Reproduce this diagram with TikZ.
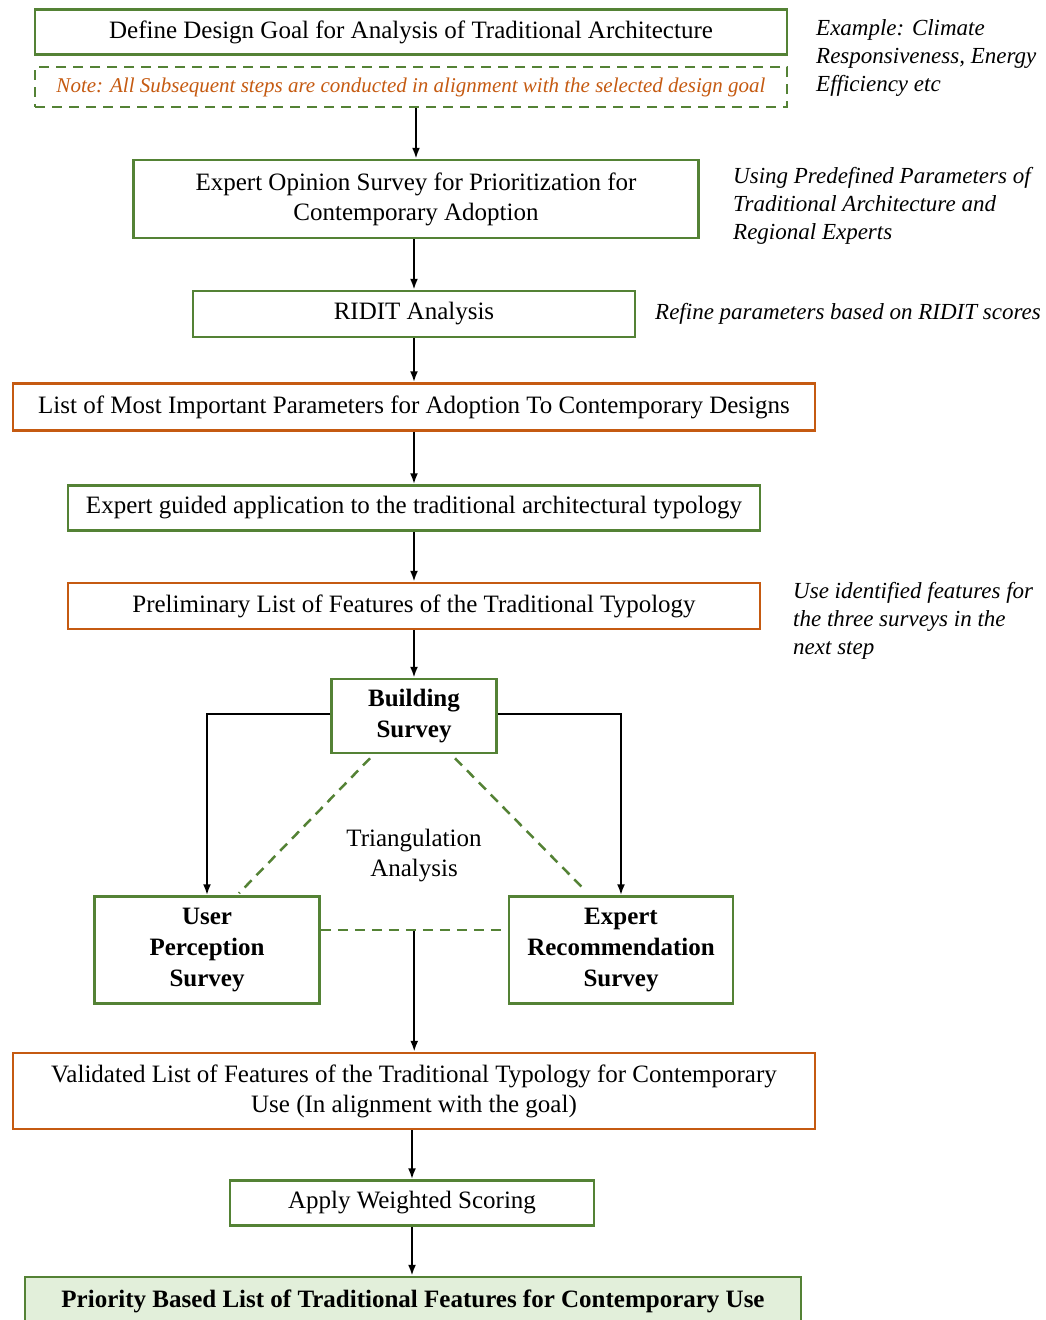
\documentclass[tikz,border=0pt]{standalone}
\usepackage{fontspec}
\setmainfont{Liberation Serif}
\usetikzlibrary{arrows.meta,calc}
\definecolor{boxgreen}{HTML}{548235}
\definecolor{boxorange}{HTML}{C55A11}
\definecolor{fillgreen}{HTML}{E2EFDA}
\begin{document}
\begin{tikzpicture}[x=1pt,y=-1pt,
    every node/.style={font=\fontsize{25}{30}\selectfont},
    gbox/.style={draw=boxgreen,line width=2.5pt,align=center,inner sep=0pt},
    obox/.style={draw=boxorange,line width=2.5pt,align=center,inner sep=0pt},
    survey/.style={gbox,font=\fontsize{25}{31}\selectfont\bfseries},
    notebox/.style={draw=boxgreen,line width=2.5pt,dash pattern=on 10pt off 7pt,inner sep=0pt,
      font=\fontsize{21}{24}\selectfont\itshape,text=boxorange},
    side/.style={align=left,anchor=north west,inner sep=0pt,font=\fontsize{23}{28}\selectfont\itshape},
    flow/.style={line width=2pt,-{Latex[length=11pt,width=8pt]}},
    tri/.style={draw=boxgreen,line width=2.5pt,dash pattern=on 10pt off 7pt}]
  \useasboundingbox (0,0) rectangle (1046,1320);
  \node[gbox,minimum width=752pt,minimum height=45pt] (goal) at (411,32) {Define Design Goal for Analysis of Traditional Architecture};
  \node[notebox,minimum width=752pt,minimum height=40pt] (note) at (411,87) {Note: All Subsequent steps are conducted in alignment with the selected design goal};
  \node[gbox,minimum width=565pt,minimum height=78pt] (opinion) at (416,199) {Expert Opinion Survey for Prioritization for\\Contemporary Adoption};
  \node[gbox,minimum width=442pt,minimum height=46pt] (ridit) at (414,314) {RIDIT Analysis};
  \node[obox,minimum width=802pt,minimum height=47pt] (params) at (414,407) {List of Most Important Parameters for Adoption To Contemporary Designs};
  \node[gbox,minimum width=692pt,minimum height=45pt] (guided) at (414,508) {Expert guided application to the traditional architectural typology};
  \node[obox,minimum width=692pt,minimum height=46pt] (prelim) at (414,606) {Preliminary List of Features of the Traditional Typology};
  \node[survey,minimum width=165pt,minimum height=74pt] (building) at (414,716) {Building\\Survey};
  \node[survey,minimum width=225pt,minimum height=107pt] (user) at (207,950) {User\\Perception\\Survey};
  \node[survey,minimum width=224pt,minimum height=107pt] (expert) at (621,950) {Expert\\Recommendation\\Survey};
  \node[align=center] (triang) at (414,856) {Triangulation\\Analysis};
  \node[obox,minimum width=802pt,minimum height=76pt] (valid) at (414,1091) {Validated List of Features of the Traditional Typology for Contemporary\\Use (In alignment with the goal)};
  \node[gbox,minimum width=364pt,minimum height=45pt] (weighted) at (412,1203) {Apply Weighted Scoring};
  \node[gbox,fill=fillgreen,minimum width=776pt,minimum height=48pt,font=\fontsize{25}{30}\selectfont\bfseries] (priority) at (413,1301) {Priority Based List of Traditional Features for Contemporary Use};
  \node[side] (ex1) at (816,19) {Example: Climate\\Responsiveness, Energy\\Efficiency etc};
  \node[side] (ex2) at (733,167) {Using Predefined Parameters of\\Traditional Architecture and\\Regional Experts};
  \node[side,anchor=west] (ex3) at (655,314) {Refine parameters based on RIDIT scores};
  \node[side] (ex4) at (793,582) {Use identified features for\\the three surveys in the\\next step};
  \coordinate (bl) at ($(building.south)+(-44,4)$);
  \coordinate (br) at ($(building.south)+(41,4)$);
  \coordinate (ul) at ($(user.north)+(32,-2)$);
  \coordinate (er) at ($(expert.north)+(-36,-5)$);
  \coordinate (mid) at ($(user.east)!0.5!(expert.west)+(0,-20)$);
  \begin{scope}[flow]
    \draw (note.south -| opinion.north) -- (opinion.north);
    \draw (opinion.south -| ridit.north) -- (ridit.north);
    \draw (ridit) -- (params);
    \draw (params) -- (guided);
    \draw (guided) -- (prelim);
    \draw (prelim) -- (building);
    \draw ($(building.west)+(0,-2)$) -| (user.north);
    \draw ($(building.east)+(0,-2)$) -| (expert.north);
    \draw (mid) -- (mid |- valid.north);
    \draw (valid.south -| weighted.north) -- (weighted.north);
    \draw (weighted.south) -- (weighted.south |- priority.north);
  \end{scope}
  \draw[tri] (bl) -- (ul);
  \draw[tri] (br) -- (er);
  \draw[tri] ($(user.east)+(0,-20)$) -- ($(expert.west)+(0,-20)$);
\end{tikzpicture}
\end{document}
